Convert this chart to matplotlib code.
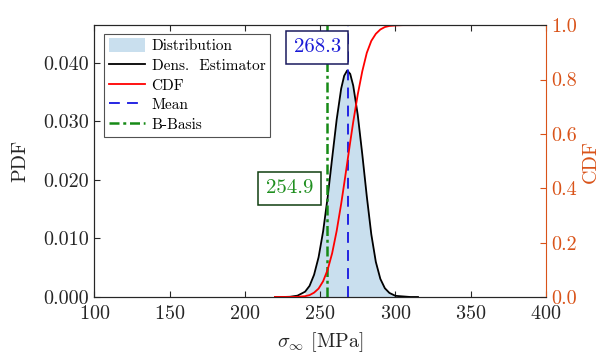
import matplotlib
matplotlib.use("Agg")
import matplotlib.pyplot as plt
from matplotlib.patches import Patch
from matplotlib.lines import Line2D
import numpy as np

plt.rcParams['font.family'] = ['cmr10', 'DejaVu Serif']
plt.rcParams['mathtext.fontset'] = 'cm'
plt.rcParams['axes.formatter.use_mathtext'] = True

# stress grid [MPa] with the density estimate and cumulative distribution
stress = [220, 225, 230, 235, 240, 243, 246, 249, 252, 255, 258, 261, 264, 266,
          268, 270, 272, 275, 278, 281, 284, 287, 290, 293, 296, 300, 305, 310, 315]
pdf = [0.0000, 0.0000, 0.00004, 0.00023, 0.0009, 0.0019, 0.0038, 0.0068, 0.0112,
       0.0170, 0.0237, 0.0303, 0.0356, 0.0378, 0.0387, 0.0381, 0.0361, 0.0311,
       0.0244, 0.0172, 0.0107, 0.0060, 0.0031, 0.0015, 0.0007, 0.0002, 0.0001,
       0.0000, 0.0000]
cdf = [0.000, 0.000, 0.0001, 0.0007, 0.003, 0.007, 0.016, 0.031, 0.058, 0.100,
       0.161, 0.243, 0.343, 0.417, 0.493, 0.570, 0.644, 0.745, 0.830, 0.898,
       0.942, 0.968, 0.984, 0.993, 0.997, 0.999, 1.000, 1.000, 1.000]

# sample range covered by the shaded distribution
dist_range = [237, 300]
mean_val = 268.3
bbasis_val = 254.9

x_ticks = [100, 150, 200, 250, 300, 350, 400]
pdf_ticks = [0.000, 0.010, 0.020, 0.030, 0.040]
cdf_ticks = [0.0, 0.2, 0.4, 0.6, 0.8, 1.0]

axis_gray = '#262626'
cdf_axis = '#D95319'
fill_col = '#c9dfee'
mean_col = '#1515e0'
bb_col = '#168a16'
mean_ls = (0, (6, 4))
bb_ls = (0, (4, 1.5, 1.2, 1.5))

fig = plt.figure(figsize=(6.0, 3.54), dpi=100)
ax = fig.add_axes([0.157, 0.161, 0.753, 0.768])
ax2 = ax.twinx()
ax2.patch.set_visible(False)

s = np.array(stress)
p = np.array(pdf)
mask = (s >= dist_range[0]) & (s <= dist_range[1])
ax.fill_between(s, 0, p, where=mask, color=fill_col, lw=0, zorder=1)
ax.plot(s, p, color='black', lw=1.3, zorder=3)
ax.axvline(mean_val, color=mean_col, lw=1.3, ls=mean_ls, zorder=4)
ax.axvline(bbasis_val, color=bb_col, lw=1.8, ls=bb_ls, zorder=4)
ax2.plot(s, cdf, color='red', lw=1.3, zorder=2)

ymax = max(pdf) * 1.2
ax2.text(mean_val - 4.5, ymax * 0.918, f"{mean_val:.1f}", color='#1a1ad6',
         fontsize=15, ha='right', va='center', zorder=6, transform=ax.transData,
         bbox=dict(boxstyle='square,pad=0.36', fc='white', ec='#1a1a5e', lw=1.1))
ax2.text(bbasis_val - 9.5, ymax * 0.40, f"{bbasis_val:.1f}", color='#1f8f1f',
         fontsize=15, ha='right', va='center', zorder=6, transform=ax.transData,
         bbox=dict(boxstyle='square,pad=0.36', fc='white', ec='#0f3f0f', lw=1.1))

ax.set_xlim(100, 400)
ax.set_ylim(0, ymax)
ax2.set_ylim(0, 1)
ax.set_xticks(x_ticks)
ax.set_yticks(pdf_ticks)
ax.set_yticklabels([f"{v:.3f}" for v in pdf_ticks])
ax2.set_yticks(cdf_ticks)
ax2.set_yticklabels([f"{v:.1f}" for v in cdf_ticks])

ax.tick_params(axis='both', direction='in', length=4, width=0.8, colors=axis_gray,
               labelsize=14.5, top=True, right=False)
ax.tick_params(axis='x', pad=6)
ax2.tick_params(axis='y', direction='in', length=4, width=0.8, colors=cdf_axis,
                labelsize=14.5)
for sp in ['left', 'bottom', 'top']:
    ax.spines[sp].set_color(axis_gray)
    ax2.spines[sp].set_color(axis_gray)
ax.spines['right'].set_visible(False)
ax2.spines['right'].set_color(cdf_axis)

ax.set_xlabel(r'$\sigma_\infty$ [MPa]', fontsize=14.5, color=axis_gray, labelpad=5)
ax.set_ylabel('PDF', fontsize=14.5, color=axis_gray, labelpad=10)
ax2.set_ylabel('CDF', fontsize=14.5, color=cdf_axis, labelpad=4)

handles = [Patch(facecolor=fill_col, edgecolor='none'),
           Line2D([], [], color='black', lw=1.3),
           Line2D([], [], color='red', lw=1.3),
           Line2D([], [], color=mean_col, lw=1.3, ls=mean_ls),
           Line2D([], [], color=bb_col, lw=1.8, ls=bb_ls)]
labels = ['Distribution', 'Dens.  Estimator', 'CDF', 'Mean', 'B-Basis']
leg = ax2.legend(handles, labels, loc='upper left', bbox_to_anchor=(0.012, 0.985),
                 fontsize=11, frameon=True, fancybox=False, handlelength=2.4,
                 handleheight=1.0, handletextpad=0.4, borderpad=0.3,
                 labelspacing=0.3, borderaxespad=0.3)
leg.get_frame().set_edgecolor(axis_gray)
leg.get_frame().set_linewidth(0.8)
leg.set_zorder(10)

fig.savefig('out.png', dpi=100)
